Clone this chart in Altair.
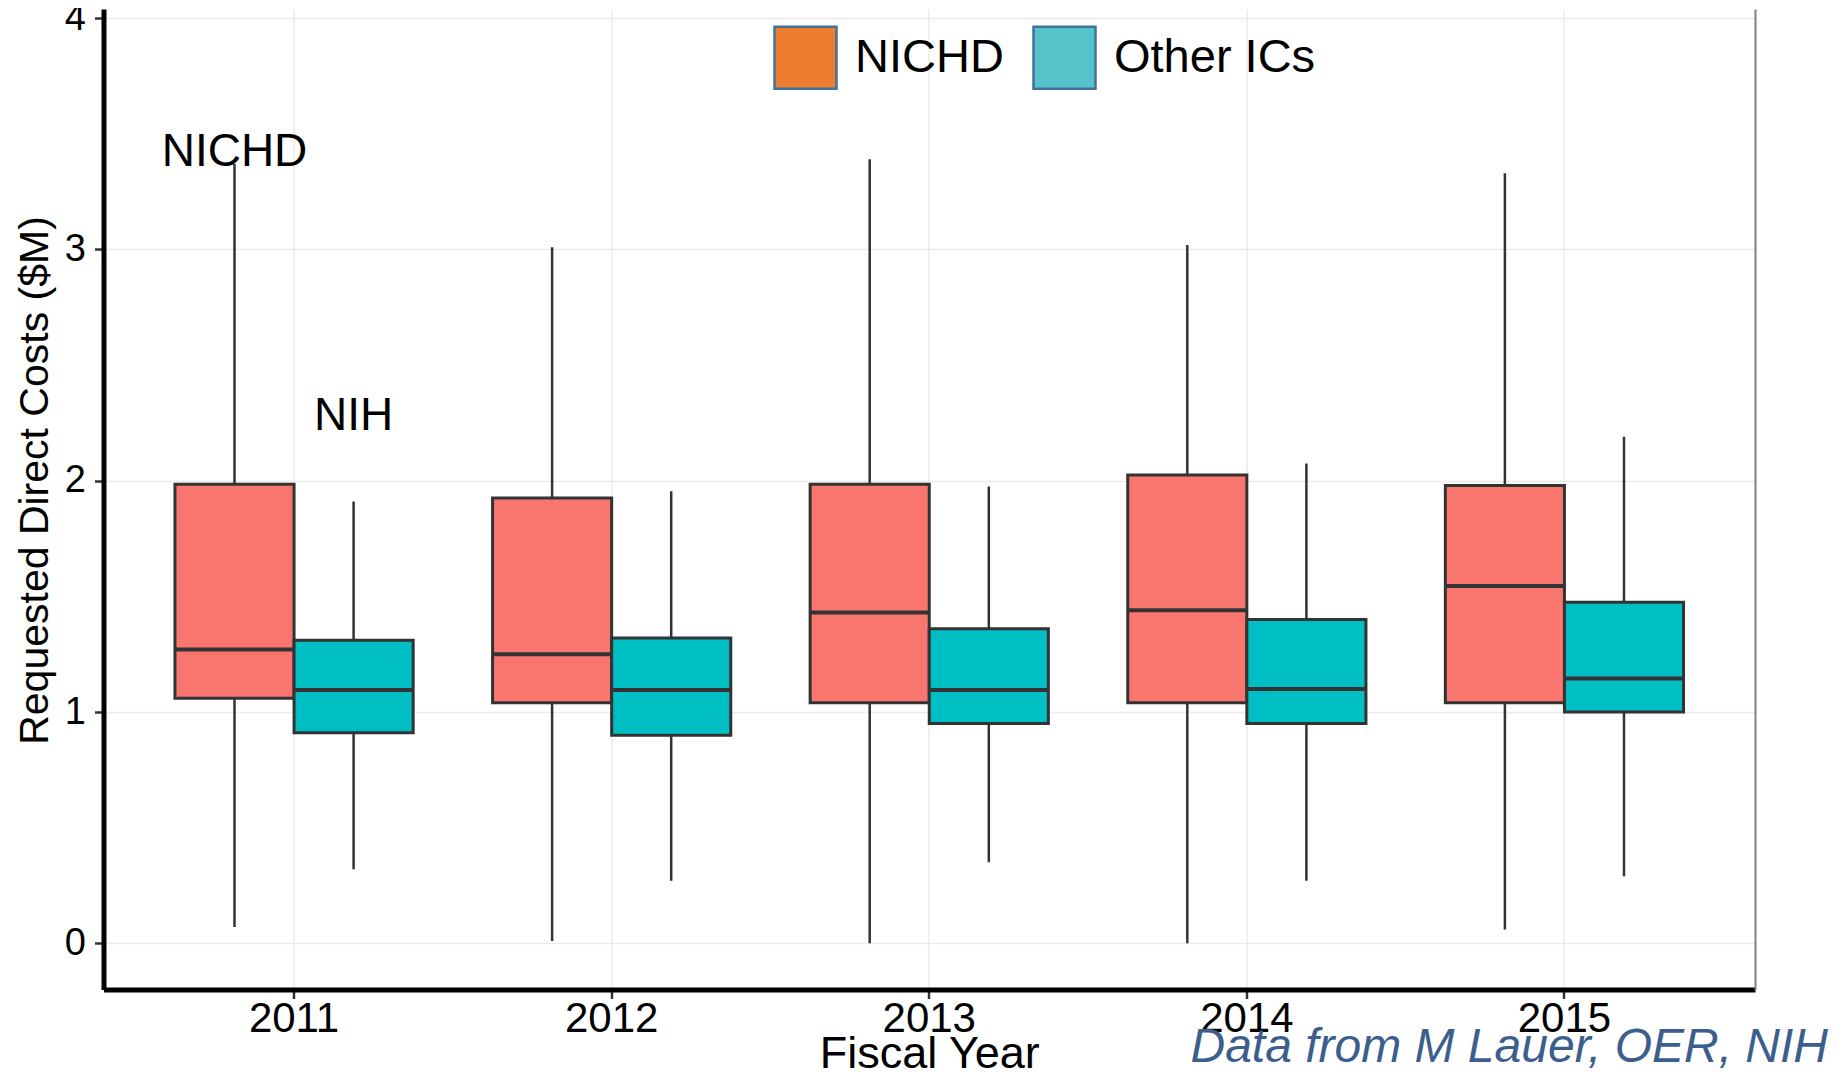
import altair as alt
import pandas as pd

years = ["2011", "2012", "2013", "2014", "2015"]
groups = ["NICHD", "Other ICs"]

# NICHD box statistics ($M)
nichd_low = [0.07, 0.01, 0.00, 0.00, 0.06]
nichd_q1 = [1.06, 1.04, 1.04, 1.04, 1.04]
nichd_med = [1.27, 1.25, 1.43, 1.44, 1.545]
nichd_q3 = [1.985, 1.925, 1.985, 2.025, 1.98]
nichd_high = [3.37, 3.01, 3.39, 3.02, 3.33]

# Other ICs box statistics ($M)
other_low = [0.32, 0.27, 0.35, 0.27, 0.29]
other_q1 = [0.91, 0.90, 0.95, 0.95, 1.00]
other_med = [1.095, 1.095, 1.095, 1.10, 1.145]
other_q3 = [1.31, 1.32, 1.36, 1.40, 1.475]
other_high = [1.91, 1.955, 1.975, 2.075, 2.19]

label_text = ["NICHD", "NIH"]
label_year = ["2011", "2011"]
label_group = ["NICHD", "Other ICs"]
label_y = [3.36, 2.22]

caption = "Data from M Lauer, OER, NIH"

rows = []
for i, yr in enumerate(years):
    rows.append(dict(year=yr, group="NICHD", low=nichd_low[i], q1=nichd_q1[i],
                     med=nichd_med[i], q3=nichd_q3[i], high=nichd_high[i]))
    rows.append(dict(year=yr, group="Other ICs", low=other_low[i], q1=other_q1[i],
                     med=other_med[i], q3=other_q3[i], high=other_high[i]))
df = pd.DataFrame(rows)
df["series"] = df["group"]
labels_df = pd.DataFrame({"year": label_year, "group": label_group, "y": label_y, "t": label_text})
caption_df = pd.DataFrame({"t": [caption]})

W, H = 1651.5, 980.5
FONT = "Liberation Sans"

yscale = alt.Scale(domain=[-0.2, 4.04], nice=False, zero=False)

x_enc = alt.X(
    "year:N", sort=years,
    scale=alt.Scale(type="band", paddingInner=0, paddingOuter=0.1),
    axis=alt.Axis(
        title="Fiscal Year", labelAngle=0, grid=True,
        gridColor="#EBEBEB", gridWidth=1.5,
        domainColor="black", domainWidth=5,
        tickColor="#333333", tickWidth=2.5, tickSize=9,
        labelFont=FONT, labelFontSize=42, labelColor="black", labelPadding=0,
        titleFont=FONT, titleFontSize=45, titleFontWeight="normal", titleColor="black",
        titleBaseline="alphabetic", titleY=77.5,
    ),
)
xoff = alt.XOffset("group:N", sort=groups,
                   scale=alt.Scale(type="band", paddingInner=0, paddingOuter=1 / 3))

left_axis = alt.Axis(
    values=[0, 1, 2, 3, 4], title="Requested Direct Costs ($M)",
    gridColor="#EBEBEB", gridWidth=1.5,
    domainColor="black", domainWidth=5,
    tickColor="#333333", tickWidth=2.5, tickSize=9,
    labelFont=FONT, labelFontSize=38, labelColor="black", labelPadding=9,
    titleFont=FONT, titleFontSize=41, titleFontWeight="normal",
    titleColor="black", titleX=-56, titleY=471, titleBaseline="alphabetic",
)
right_axis = alt.Axis(
    orient="right", values=[0.5, 1.5, 2.5, 3.5], labels=False, ticks=False, title=None,
    domainColor="#808080", domainWidth=2, gridColor="#F3F3F3", gridWidth=1.5,
)

fill_enc = alt.Fill("group:N", scale=alt.Scale(domain=groups, range=["#F8766D", "#00BFC4"]),
                    legend=None)

base = alt.Chart(df)

whiskers = base.mark_rule(color="#333333", strokeWidth=2.5).encode(
    x=x_enc, xOffset=xoff,
    y=alt.Y("low:Q", scale=yscale, axis=left_axis),
    y2="high:Q",
)

boxes = base.mark_bar(stroke="#333333", strokeWidth=3).encode(
    x=x_enc, xOffset=xoff,
    y=alt.Y("q3:Q", scale=yscale, axis=None),
    y2="q1:Q",
    fill=fill_enc,
)

medians = base.mark_tick(color="#333333", thickness=4, size=119, opacity=1).encode(
    x=x_enc, xOffset=xoff,
    y=alt.Y("med:Q", scale=yscale, axis=None),
)

legend_layer = base.mark_square(size=0, opacity=1).encode(
    x=x_enc, xOffset=xoff,
    y=alt.Y("med:Q", scale=yscale, axis=right_axis),
    color=alt.Color(
        "series:N",
        scale=alt.Scale(range=["#ED7D31", "#56C3CA"]),
        legend=alt.Legend(
            orient="none", legendX=669.5, legendY=16, direction="horizontal",
            title=None, symbolType="square", symbolSize=3844,
            symbolStrokeColor="#41719C", symbolStrokeWidth=2.5, symbolOpacity=1,
            labelFont=FONT, labelFontSize=47, labelColor="black",
            labelOffset=17, columnPadding=24, padding=0, labelLimit=600,
        ),
    ),
)

annotations = alt.Chart(labels_df).mark_text(
    font=FONT, fontSize=46, color="black", align="center", baseline="alphabetic"
).encode(
    x=x_enc, xOffset=xoff,
    y=alt.Y("y:Q", scale=yscale, axis=None),
    text="t:N",
)

caption_layer = alt.Chart(caption_df).mark_text(
    font=FONT, fontSize=48, fontStyle="italic", color="#3C5E8D",
    align="right", baseline="alphabetic",
).encode(
    x=alt.value(1724.5), y=alt.value(1053), text="t:N",
)

chart = alt.layer(
    whiskers, boxes, medians, legend_layer, annotations, caption_layer
).resolve_axis(y="independent").properties(
    width=W, height=H,
    padding={"left": 95.5, "top": 1, "right": 74, "bottom": 84.5},
    autosize=alt.AutoSizeParams(type="none"),
).configure(font=FONT).configure_view(stroke=None)

chart.save("out.html", embed_options={"renderer": "svg", "actions": False})
